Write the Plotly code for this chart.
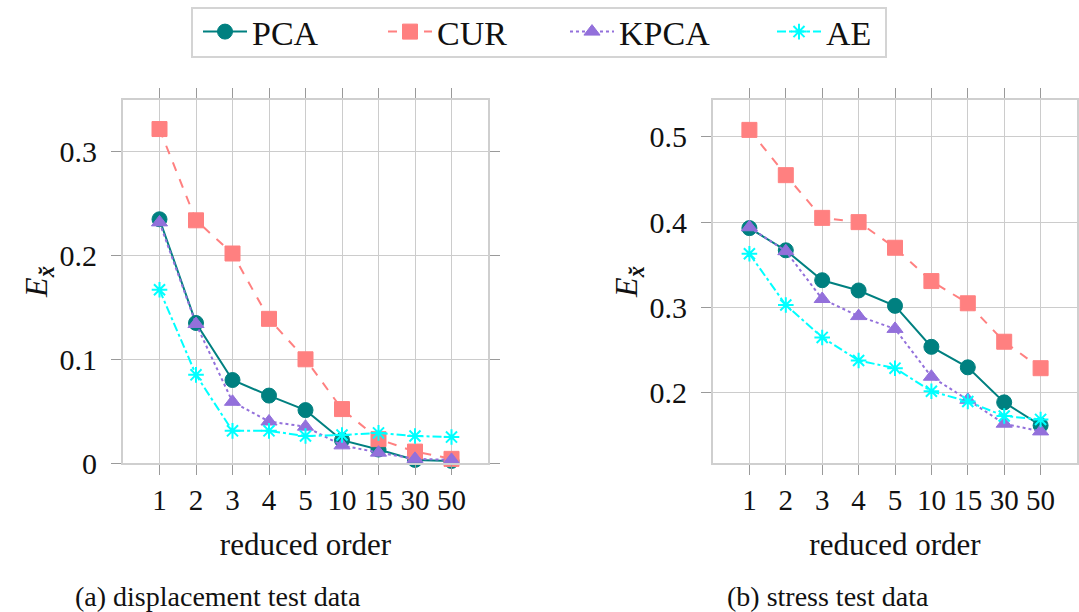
import plotly.graph_objects as go

# Reduced orders (categorical x axis)
orders = ["1", "2", "3", "4", "5", "10", "15", "30", "50"]

# (a) displacement test data
disp_pca = [0.235, 0.135, 0.080, 0.065, 0.051, 0.022, 0.013, 0.003, 0.002]
disp_cur = [0.322, 0.234, 0.202, 0.139, 0.100, 0.052, 0.023, 0.011, 0.004]
disp_kpca = [0.232, 0.134, 0.059, 0.040, 0.035, 0.017, 0.010, 0.004, 0.003]
disp_ae = [0.167, 0.085, 0.031, 0.031, 0.026, 0.027, 0.029, 0.026, 0.025]

# (b) stress test data
stress_pca = [0.393, 0.367, 0.332, 0.320, 0.302, 0.254, 0.230, 0.189, 0.162]
stress_cur = [0.508, 0.455, 0.405, 0.400, 0.370, 0.331, 0.305, 0.260, 0.229]
stress_kpca = [0.394, 0.366, 0.310, 0.290, 0.275, 0.219, 0.192, 0.164, 0.155]
stress_ae = [0.363, 0.303, 0.265, 0.238, 0.229, 0.202, 0.190, 0.173, 0.169]

method_names = ["PCA", "CUR", "KPCA", "AE"]
colors = ["#008080", "#ff8080", "#9370db", "#00ffff"]
dashes = ["solid", "dash", "dot", "dashdot"]
symbols = ["circle", "square", "triangle-up", "asterisk-open"]
sizes = [15, 15, 14, 13]

W, H = 1079, 612
FONT = "Liberation Serif, serif"

fig = go.Figure()

panels = [
    ("x", "y", [disp_pca, disp_cur, disp_kpca, disp_ae]),
    ("x2", "y2", [stress_pca, stress_cur, stress_kpca, stress_ae]),
]
legend_ids = ["legend", "legend2", "legend3", "legend4"]

for p, (xa, ya, series) in enumerate(panels):
    for i, vals in enumerate(series):
        if symbols[i] == "asterisk-open":
            marker = dict(symbol=symbols[i], size=sizes[i],
                          line=dict(color=colors[i], width=2))
        else:
            marker = dict(symbol=symbols[i], size=sizes[i], color=colors[i],
                          line=dict(color=colors[i], width=1))
        fig.add_trace(go.Scatter(
            x=orders, y=vals, xaxis=xa, yaxis=ya,
            mode="lines+markers", name=method_names[i],
            line=dict(color=colors[i], dash=dashes[i], width=2),
            marker=marker, cliponaxis=False,
            showlegend=(p == 0), legend=legend_ids[i],
        ))

frame_color = "#cfcfcf"
grid_color = "#cccccc"
tick_color = "#9a9a9a"

common_x = dict(
    type="category", range=[-1, 9], showgrid=True, gridcolor=grid_color,
    gridwidth=1, showline=True, linecolor=frame_color, linewidth=2,
    mirror="allticks", ticks="outside", ticklen=10, tickcolor=tick_color,
    tickwidth=1, tickfont=dict(family=FONT, size=29, color="#111"),
    ticklabelstandoff=0, zeroline=False, automargin=False,
    title=dict(text="reduced order", font=dict(family=FONT, size=31, color="#111"),
               standoff=19),
)
common_y = dict(
    showgrid=True, gridcolor=grid_color, gridwidth=1, showline=True,
    linecolor=frame_color, linewidth=2, mirror="allticks", ticks="outside",
    ticklen=10, tickcolor=tick_color, tickwidth=1,
    tickfont=dict(family=FONT, size=30, color="#111"), ticklabelstandoff=8,
    zeroline=False, automargin=False,
    title=dict(text="<i>E</i><sub><b><i>x̆</i></b></sub>",
               font=dict(family=FONT, size=32, color="#111"), standoff=2),
)

ydom = [1 - 463 / H, 1 - 100 / H]
fig.update_layout(
    xaxis=dict(common_x, domain=[123 / W, 488 / W], anchor="y"),
    yaxis=dict(common_y, domain=ydom, anchor="x", range=[0, 0.35],
               tickvals=[0, 0.1, 0.2, 0.3], ticktext=["0", "0.1", "0.2", "0.3"]),
    xaxis2=dict(common_x, domain=[713 / W, 1077 / W], anchor="y2"),
    yaxis2=dict(common_y, domain=ydom, anchor="x2", range=[0.118, 0.543],
                tickvals=[0.2, 0.3, 0.4, 0.5], ticktext=["0.2", "0.3", "0.4", "0.5"]),
)

# One legend per method, laid out in a single boxed row
legend_x = [198, 383, 565, 772]
for lid, lx in zip(legend_ids, legend_x):
    fig.update_layout({lid: dict(
        x=lx / W, y=1 - 32 / H, xanchor="left", yanchor="middle",
        orientation="h", bgcolor="rgba(0,0,0,0)", borderwidth=0,
        itemwidth=44, font=dict(family=FONT, size=34, color="#111"),
    )})

fig.add_shape(type="rect", xref="paper", yref="paper",
              x0=192 / W, x1=886 / W, y0=1 - 57 / H, y1=1 - 8 / H,
              line=dict(color="#d4d4d4", width=2), fillcolor="rgba(0,0,0,0)")

captions = [("(a) displacement test data", 218), ("(b) stress test data", 828)]
for text, cx in captions:
    fig.add_annotation(text=text, x=cx / W, y=1 - 596 / H, xref="paper",
                       yref="paper", showarrow=False, xanchor="center",
                       yanchor="middle",
                       font=dict(family=FONT, size=28, color="#111"))

fig.update_layout(
    width=W, height=H, margin=dict(l=0, r=0, t=0, b=0),
    paper_bgcolor="white", plot_bgcolor="white",
)

fig.write_html("out.html")
